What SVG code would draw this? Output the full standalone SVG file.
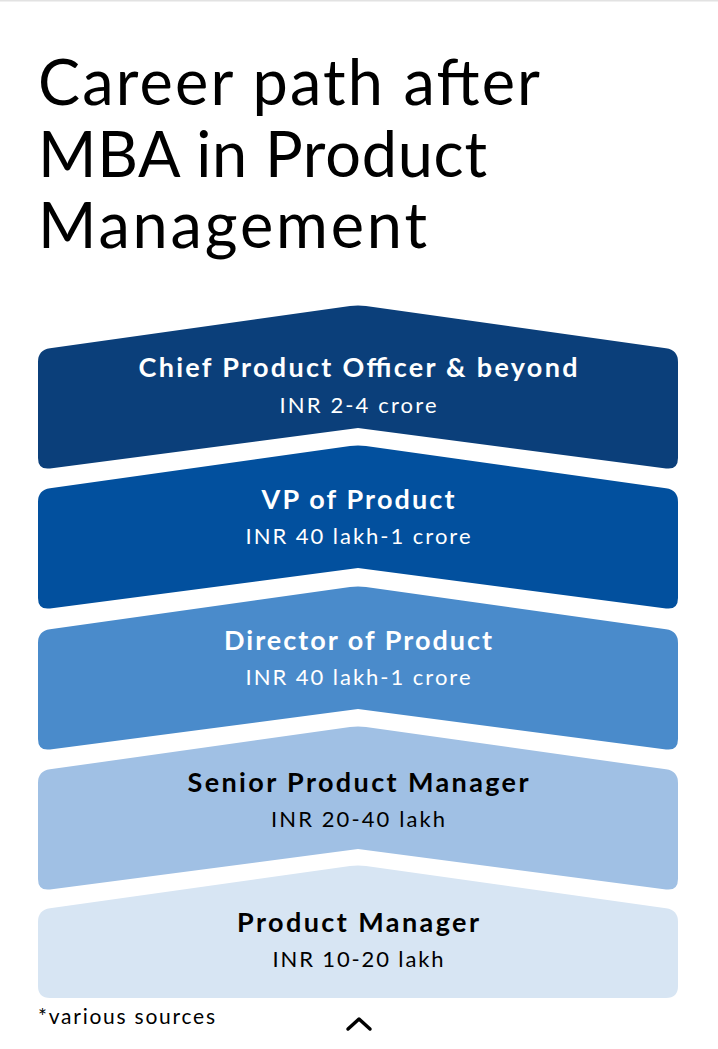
<svg xmlns="http://www.w3.org/2000/svg" width="718" height="1049" viewBox="0 0 718 1049">
<style>
.title{font-family:Lato,"Liberation Sans",sans-serif;font-size:63px;fill:#000}
.h{font-family:Lato,"Liberation Sans",sans-serif;font-weight:700;font-size:27px;text-anchor:middle}
.s{font-family:Lato,"Liberation Sans",sans-serif;font-size:22px;text-anchor:middle}
.w{fill:#fff}
.k{fill:#000}
.note{font-family:Lato,"Liberation Sans",sans-serif;font-size:21px;fill:#000}
</style>
<defs>
<path id="chev" d="M 350,306.1 Q 358,305 366,306.1 L 666,348.3 Q 678,350 678,362 L 678,458 Q 678,470 666,468.4 L 358,428 L 50,468.4 Q 38,470 38,458 L 38,362 Q 38,350 50,348.3 Z"/>
</defs>
<rect x="0" y="0" width="718" height="1049" fill="#fff"/>
<rect x="0" y="0" width="718" height="1.5" fill="#e2e2e2"/>
<g id="title">
<text class="title" x="38" y="105" textLength="502" lengthAdjust="spacing">Career path after</text>
<text class="title" x="38" y="177" textLength="449" lengthAdjust="spacing">MBA in Product</text>
<text class="title" x="38" y="248" textLength="389" lengthAdjust="spacing">Management</text>
</g>
<g id="connectors"></g>
<g id="node-cpo">
<use href="#chev" fill="#0b3f7a"/>
<text class="h w" x="358" y="377" textLength="439" lengthAdjust="spacing">Chief Product Officer &amp; beyond</text>
<text class="s w" x="358" y="413" textLength="157" lengthAdjust="spacing">INR 2-4 crore</text>
</g>
<g id="node-vp">
<use href="#chev" fill="#02509e" transform="translate(0,140)"/>
<text class="h w" x="358" y="509" textLength="193" lengthAdjust="spacing">VP of Product</text>
<text class="s w" x="358" y="544" textLength="225" lengthAdjust="spacing">INR 40 lakh-1 crore</text>
</g>
<g id="node-director">
<use href="#chev" fill="#4a8bcb" transform="translate(0,281)"/>
<text class="h w" x="358" y="650" textLength="268" lengthAdjust="spacing">Director of Product</text>
<text class="s w" x="358" y="685" textLength="225" lengthAdjust="spacing">INR 40 lakh-1 crore</text>
</g>
<g id="node-senior">
<use href="#chev" fill="#a0c0e4" transform="translate(0,421)"/>
<text class="h k" x="358" y="792" textLength="341" lengthAdjust="spacing">Senior Product Manager</text>
<text class="s k" x="358" y="827" textLength="174" lengthAdjust="spacing">INR 20-40 lakh</text>
</g>
<g id="node-pm">
<path fill="#d7e5f3" d="M 350,866.1 Q 358,865 366,866.1 L 666,908.3 Q 678,910 678,922 L 678,986 Q 678,998 666,998 L 50,998 Q 38,998 38,986 L 38,922 Q 38,910 50,908.3 Z"/>
<text class="h k" x="358" y="932" textLength="242" lengthAdjust="spacing">Product Manager</text>
<text class="s k" x="358" y="967" textLength="171" lengthAdjust="spacing">INR 10-20 lakh</text>
</g>
<text class="note" x="38" y="1024" textLength="177" lengthAdjust="spacing">*various sources</text>
<path d="M 348,1029 L 359,1019 L 370,1029" fill="none" stroke="#000" stroke-width="3.5" stroke-linecap="round" stroke-linejoin="round"/>
</svg>
